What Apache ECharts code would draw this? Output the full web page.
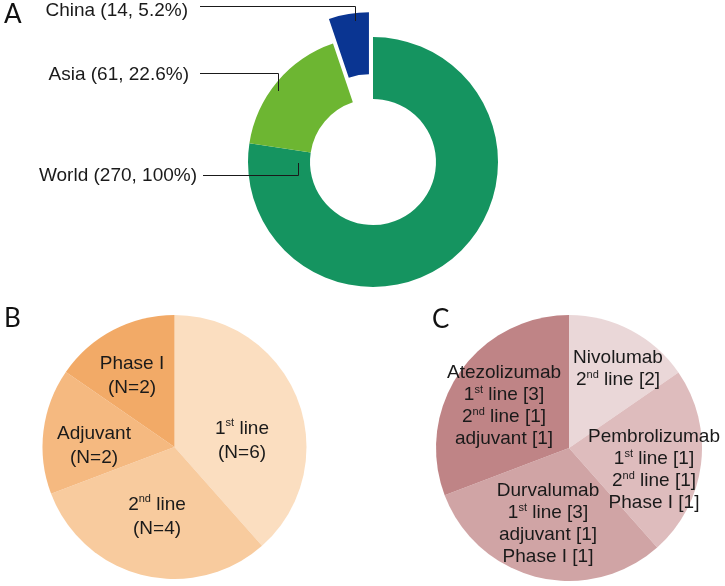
<!DOCTYPE html>
<html>
<head>
<meta charset="utf-8">
<script src="https://cdn.jsdelivr.net/npm/echarts@6/dist/echarts.min.js"></script>
<style>
  html, body { margin: 0; padding: 0; background: #fff; }
  #chart { width: 725px; height: 586px; }
</style>
</head>
<body>
<div id="chart"></div>
<script>
// Panel A: nested counts shown as a ring (World > Asia > China)
const aNames = ["World", "Asia", "China"];
const aLabels = ["World (270, 100%)", "Asia (61, 22.6%)", "China (14, 5.2%)"];
const aValues = [209, 47, 14]; // slice sizes as drawn (270-61, 61-14, 14)
const aColors = ["#159460", "#6db632", "#0a3592"];

// Panel B: trial setting
const bNames = ["1st line", "2nd line", "Adjuvant", "Phase I"];
const bLabels = ["1{s|st} line\n(N=6)", "2{s|nd} line\n(N=4)", "Adjuvant\n(N=2)", "Phase I\n(N=2)"];
const bValues = [5, 4, 2, 2]; // slice shares as drawn in the figure
const bColors = ["#fbdec0", "#f8cb9e", "#f5b980", "#f2aa67"];

// Panel C: agents
const cNames = ["Nivolumab", "Pembrolizumab", "Durvalumab", "Atezolizumab"];
const cLabels = [
  "Nivolumab\n2{s|nd} line [2]",
  "Pembrolizumab\n1{s|st} line [1]\n2{s|nd} line [1]\nPhase I [1]",
  "Durvalumab\n1{s|st} line [3]\nadjuvant [1]\nPhase I [1]",
  "Atezolizumab\n1{s|st} line [3]\n2{s|nd} line [1]\nadjuvant [1]"
];
const cValues = [2, 3, 4, 4]; // slice shares as drawn in the figure
const cColors = ["#ead7d8", "#debcbd", "#d0a4a5", "#bf8486"];

const FONT = "Liberation Sans";
const TXT = "#1a1a1a";

const chartDom = document.getElementById("chart");
const myChart = echarts.init(chartDom, null, { renderer: "canvas" });

// callout placement for the ring (text right edge, elbow line)
const aLabelPos = [
  { x: 197, y: 176, line: [[203, 175.5], [298.5, 175.5], [298.5, 163]] },
  { x: 189, y: 75, line: [[200, 73.5], [278.5, 73.5], [278.5, 91]] },
  { x: 188, y: 11, line: [[200, 6.5], [355.5, 6.5], [355.5, 21]] }
];
const bLabelPos = [[242, 441], [157, 517], [94, 446], [132, 376]];
const cLabelPos = [[618, 369], [654, 470], [548, 524], [504, 406]];

function sup(lh) {
  return {
    fontSize: 19, fontFamily: FONT, color: TXT, lineHeight: lh,
    rich: {
      s: { fontSize: 11, fontFamily: FONT, color: TXT, verticalAlign: "top", lineHeight: 14 }
    }
  };
}

const ringBase = {
  type: "pie",
  center: [373, 162],
  radius: [63, 125],
  startAngle: 90,
  clockwise: true,
  emphasis: { disabled: true }
};

const letter = { fontSize: 26, fontWeight: "normal", fontFamily: "Lato", color: "#111" };

const option = {
  animation: false,
  backgroundColor: "#fff",
  title: [
    { text: "A", left: 4, top: 2, padding: 0, textStyle: letter },
    { text: "B", left: 4, top: 306, padding: 0, textStyle: letter },
    { text: "C", left: 432, top: 307, padding: 0, textStyle: letter }
  ],
  series: [
    Object.assign({}, ringBase, {
      selectedMode: "single",
      selectedOffset: 25,
      select: { itemStyle: { borderWidth: 0 } },
      label: { show: false },
      labelLine: { show: false },
      data: aNames.map((n, i) => ({
        name: n,
        value: aValues[i],
        selected: i === 2,
        itemStyle: { color: aColors[i] },
        select: { itemStyle: { color: aColors[i], borderWidth: 0 } }
      }))
    }),
    // same ring again, invisible, only to carry the callouts above the sectors
    Object.assign({}, ringBase, {
      z: 6,
      silent: true,
      itemStyle: { color: "rgba(0,0,0,0)" },
      label: {
        show: true,
        position: "outside",
        formatter: p => aLabels[p.dataIndex],
        fontSize: 19,
        fontFamily: FONT,
        color: TXT
      },
      labelLine: { show: true, lineStyle: { color: "#1a1a1a", width: 1 } },
      labelLayout: p => {
        const l = aLabelPos[p.dataIndex];
        return { x: l.x, y: l.y, align: "right", verticalAlign: "middle", labelLinePoints: l.line };
      },
      data: aNames.map((n, i) => ({ name: n, value: aValues[i] }))
    }),
    {
      type: "pie",
      center: [174.5, 447],
      radius: 132,
      startAngle: 90,
      clockwise: true,
      emphasis: { disabled: true },
      label: Object.assign({ show: true, position: "inside", formatter: p => bLabels[p.dataIndex] }, sup(24)),
      labelLine: { show: false },
      labelLayout: p => ({ x: bLabelPos[p.dataIndex][0], y: bLabelPos[p.dataIndex][1], align: "center", verticalAlign: "middle" }),
      data: bNames.map((n, i) => ({ name: n, value: bValues[i], itemStyle: { color: bColors[i] } }))
    },
    {
      type: "pie",
      center: [569, 448],
      radius: 133,
      startAngle: 90,
      clockwise: true,
      emphasis: { disabled: true },
      label: Object.assign({ show: true, position: "inside", formatter: p => cLabels[p.dataIndex] }, sup(22)),
      labelLine: { show: false },
      labelLayout: p => ({ x: cLabelPos[p.dataIndex][0], y: cLabelPos[p.dataIndex][1], align: "center", verticalAlign: "middle" }),
      data: cNames.map((n, i) => ({ name: n, value: cValues[i], itemStyle: { color: cColors[i] } }))
    }
  ]
};

option && myChart.setOption(option);
</script>
</body>
</html>
